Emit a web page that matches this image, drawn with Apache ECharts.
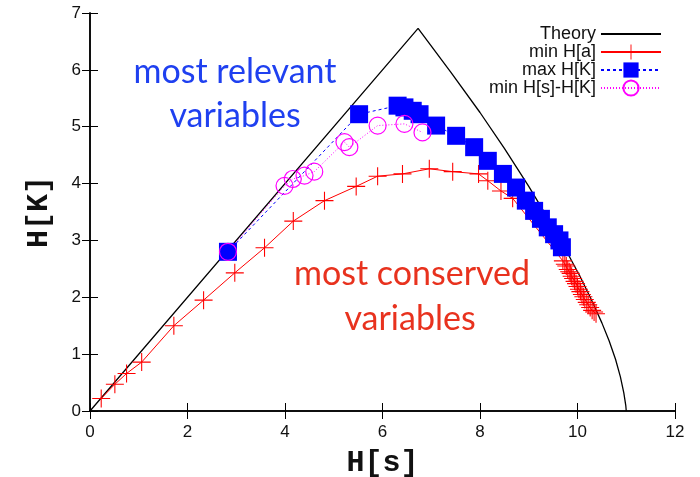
<!DOCTYPE html>
<html>
<head>
<meta charset="utf-8">
<script src="https://cdn.jsdelivr.net/npm/echarts@6/dist/echarts.min.js"></script>
<style>
  html, body { margin: 0; padding: 0; background: #fff; }
  #chart { width: 700px; height: 477px; }
</style>
</head>
<body>
<div id="chart"></div>
<script>
// Axis ticks
const xTicks = [0, 2, 4, 6, 8, 10, 12];
const yTicks = [0, 1, 2, 3, 4, 5, 6, 7];

// Theory: upper bound of H[K] as a function of H[s]
const theoryS = [0, 6.73, 7.4, 8.0, 8.5, 9.0, 9.4, 9.75, 10.05, 10.3, 10.5, 10.65, 10.78, 10.88, 10.95, 10.99, 11.0];
const theoryK = [0, 6.73, 5.96, 5.25, 4.62, 3.95, 3.38, 2.85, 2.37, 1.93, 1.55, 1.23, 0.91, 0.6, 0.32, 0.1, 0];

// min H[a]
const minHaS = [0.23, 0.51, 0.75, 1.06, 1.72, 2.33, 2.97, 3.58, 4.17, 4.81, 5.46, 5.90, 6.41, 6.96, 7.44, 7.97, 8.16, 8.43, 8.67,
  9.70, 9.74, 9.77, 9.80, 9.83, 9.86, 9.88, 9.91, 9.94, 9.97, 10.00, 10.03, 10.06, 10.09, 10.12, 10.15, 10.19, 10.22, 10.26, 10.30, 10.34, 10.38];
const minHaK = [0.22, 0.47, 0.66, 0.86, 1.50, 1.95, 2.43, 2.87, 3.34, 3.70, 3.95, 4.13, 4.17, 4.26, 4.21, 4.17, 4.05, 3.87, 3.74,
  2.64, 2.58, 2.55, 2.49, 2.45, 2.42, 2.37, 2.33, 2.28, 2.24, 2.19, 2.14, 2.10, 2.05, 2.01, 1.96, 1.91, 1.87, 1.82, 1.77, 1.74, 1.71];

// max H[K]
const maxHkS = [2.83, 5.52, 6.31, 6.45, 6.62, 6.76, 7.10, 7.51, 7.88, 8.16, 8.47, 8.74, 8.94, 9.11, 9.25, 9.39, 9.52, 9.63, 9.68];
const maxHkK = [2.80, 5.22, 5.37, 5.34, 5.28, 5.22, 5.02, 4.84, 4.64, 4.40, 4.17, 3.93, 3.70, 3.52, 3.38, 3.23, 3.11, 3.00, 2.88];

// min H[s]-H[K]
const minDiffS = [2.83, 3.99, 4.16, 4.40, 4.60, 5.22, 5.32, 5.90, 6.45, 6.82];
const minDiffK = [2.80, 3.96, 4.08, 4.14, 4.21, 4.73, 4.64, 5.02, 5.05, 4.90];

const pairs = (xs, ys) => xs.map((x, i) => [x, ys[i]]);

const crossPath = 'path://M0,9.4h20v1.2h-20z M9.4,0h1.2v20h-1.2z';
const tickFont = { fontFamily: 'Liberation Sans', fontSize: 17, color: '#111' };
const nameFont = { fontFamily: 'Liberation Mono', fontSize: 30, fontWeight: 'bold', color: '#111' };
const frameLine = { show: true, lineStyle: { color: '#000', width: 1.5 } };
const innerTick = { show: true, inside: true, length: 8, lineStyle: { color: '#000', width: 1 } };
const noteFont = '34px Lato';

const chart = echarts.init(document.getElementById('chart'), null, { renderer: 'canvas' });

chart.setOption({
  animation: false,
  backgroundColor: '#fff',
  grid: { left: 90, right: 25, top: 13, bottom: 66, containLabel: false, outerBoundsMode: 'none' },
  xAxis: [
    {
      type: 'value', min: xTicks[0], max: xTicks[xTicks.length - 1], interval: 2,
      name: 'H[s]', nameLocation: 'middle', nameGap: 37, nameTextStyle: nameFont,
      axisLine: frameLine, axisTick: innerTick, splitLine: { show: false },
      axisLabel: Object.assign({ margin: 13 }, tickFont)
    },
    {
      type: 'value', position: 'top', min: xTicks[0], max: xTicks[xTicks.length - 1], interval: 2,
      axisLine: frameLine, axisTick: innerTick, splitLine: { show: false },
      axisLabel: { show: false }
    }
  ],
  yAxis: [
    {
      type: 'value', min: yTicks[0], max: yTicks[yTicks.length - 1], interval: 1,
      name: 'H[K]', nameLocation: 'middle', nameGap: 36, nameRotate: 90, nameTextStyle: nameFont,
      axisLine: frameLine, axisTick: innerTick, splitLine: { show: false },
      axisLabel: Object.assign({ margin: 9 }, tickFont)
    },
    {
      type: 'value', position: 'right', min: yTicks[0], max: yTicks[yTicks.length - 1], interval: 1,
      axisLine: frameLine, axisTick: innerTick, splitLine: { show: false },
      axisLabel: { show: false }
    }
  ],
  legend: {
    orient: 'vertical', align: 'right', right: 33, top: 20,
    itemWidth: 60, itemHeight: 19, itemGap: 0,
    selectedMode: false,
    textStyle: { fontFamily: 'Liberation Sans', fontSize: 18, color: '#111' },
    data: ['Theory', 'min H[a]', 'max H[K]', 'min H[s]-H[K]']
  },
  graphic: [
    { type: 'text', x: 235, y: 72, style: { text: 'most relevant', fill: '#1f40f0', font: noteFont, textAlign: 'center', textVerticalAlign: 'middle' } },
    { type: 'text', x: 235, y: 116, style: { text: 'variables', fill: '#1f40f0', font: noteFont, textAlign: 'center', textVerticalAlign: 'middle' } },
    { type: 'text', x: 412, y: 274, style: { text: 'most conserved', fill: '#e8321e', font: noteFont, textAlign: 'center', textVerticalAlign: 'middle' } },
    { type: 'text', x: 410, y: 319, style: { text: 'variables', fill: '#e8321e', font: noteFont, textAlign: 'center', textVerticalAlign: 'middle' } }
  ],
  series: [
    {
      name: 'Theory', type: 'line', data: pairs(theoryS, theoryK),
      symbol: 'none', itemStyle: { color: 'rgba(0,0,0,0)' },
      lineStyle: { color: '#000', width: 1.3 }
    },
    {
      name: 'min H[a]', type: 'line', data: pairs(minHaS, minHaK),
      symbol: crossPath, symbolSize: 18, itemStyle: { color: '#ff0000' },
      lineStyle: { color: '#ff0000', width: 1 }
    },
    {
      name: 'max H[K]', type: 'line', data: pairs(maxHkS, maxHkK),
      symbol: 'rect', symbolSize: 18, itemStyle: { color: '#0000ff' },
      lineStyle: { color: '#0000ff', width: 1, type: [3, 3] }
    },
    {
      name: 'min H[s]-H[K]', type: 'line', data: pairs(minDiffS, minDiffK),
      symbol: 'circle', symbolSize: 17,
      itemStyle: { color: 'rgba(0,0,0,0)', borderColor: '#ff00ff', borderWidth: 1.2 },
      lineStyle: { color: '#ff00ff', width: 1, type: [1, 2] }
    }
  ]
});
</script>
</body>
</html>
